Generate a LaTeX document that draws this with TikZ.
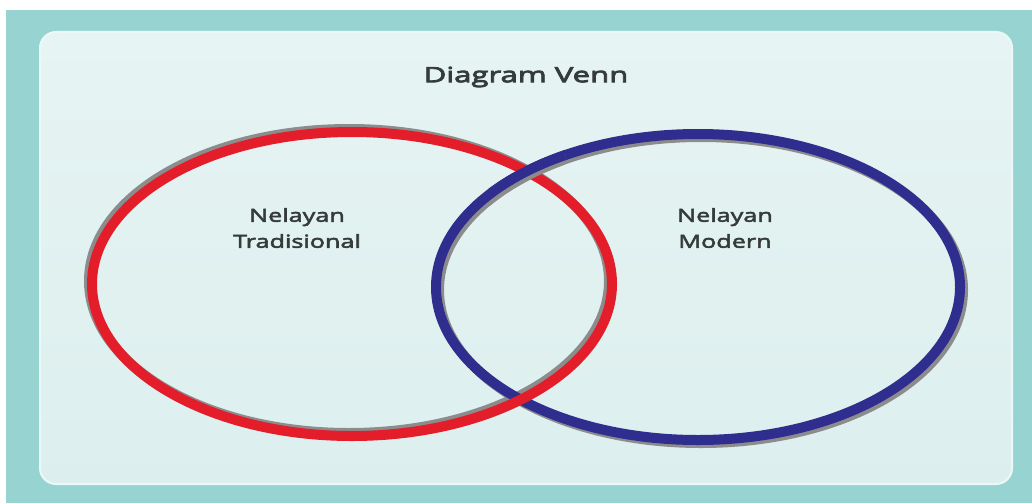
\documentclass[tikz,border=0pt]{standalone}
\usepackage{fontspec}
\setmainfont{Open Sans}
\newfontfamily\titlefont[FakeStretch=1.48,FakeBold=4]{Open Sans}
\newfontfamily\labelfont[FakeStretch=1.4,FakeBold=3]{Open Sans}
\definecolor{tealbg}{HTML}{97D3D0}
\definecolor{innerbg}{HTML}{DCEFEE}
\definecolor{innerline}{HTML}{EAF9F8}
\definecolor{redring}{HTML}{E31E2A}
\definecolor{bluering}{HTML}{2F2E8E}
\definecolor{ringshadow}{HTML}{8C8C8C}
\definecolor{txt}{HTML}{353A3A}
\tikzset{
  ring/.style={line width=10pt},
  ringshade/.style={line width=10pt, draw=ringshadow},
  label/.style={text=txt, align=center, font=\labelfont\fontsize{18}{26}\selectfont, inner sep=0pt},
  titlelabel/.style={text=txt, font=\titlefont\fontsize{21}{24}\selectfont, inner sep=0pt}
}
\begin{document}
\begin{tikzpicture}[x=1pt,y=-1pt]
\useasboundingbox (0,0) rectangle (1032,503);
\fill[white] (0,0) rectangle (1032,503);
\fill[tealbg] (6,10) rectangle (1032,503);
\draw[innerline, line width=2pt, top color=innerbg!70!white, bottom color=innerbg, rounded corners=16pt] (40,32) rectangle (1012,484);
\node[titlelabel] (title) at (526,77) {Diagram Venn};
% shadows
\draw[ringshade] (349,281) ellipse [x radius=260, y radius=152];
\draw[ringshade] (701,290) ellipse [x radius=262, y radius=153];
% blue ring
\draw[ring, draw=bluering] (698,287) ellipse [x radius=262, y radius=153];
% red ring
\draw[ring, draw=redring] (352,284) ellipse [x radius=260, y radius=152];
% blue over red at top crossing
\begin{scope}
\clip (488,135) rectangle (565,205);
\draw[ringshade] (701,290) ellipse [x radius=262, y radius=153];
\draw[ring, draw=bluering] (698,287) ellipse [x radius=262, y radius=153];
\end{scope}
\node[label] (trad) at (297,228) {Nelayan\\Tradisional};
\node[label] (mod) at (725,228) {Nelayan\\Modern};
\end{tikzpicture}
\end{document}
